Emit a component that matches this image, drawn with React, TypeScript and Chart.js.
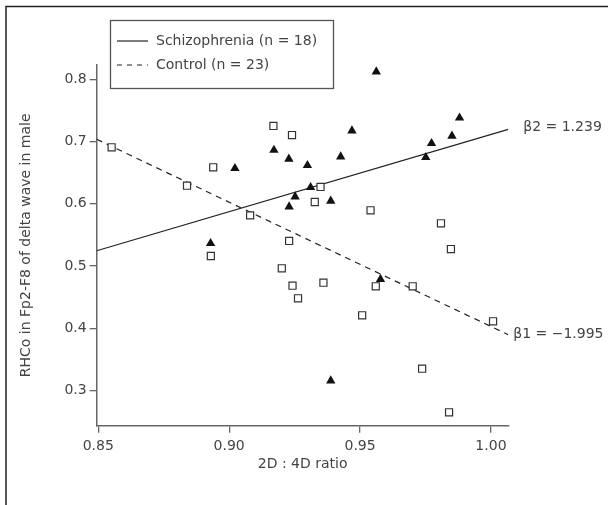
import React, { useEffect, useRef } from "react";
import { Chart, registerables } from "chart.js";

Chart.register(...registerables);

// Schizophrenia (n = 18) — filled triangles
const schizX = [0.9562, 0.988, 0.9851, 0.9773, 0.9751, 0.9469, 0.9426, 0.9299, 0.9022, 0.9171, 0.9228, 0.9311, 0.9252, 0.9229, 0.9388, 0.8929, 0.9578, 0.9388];
const schizY = [0.812, 0.738, 0.7088, 0.697, 0.6746, 0.7173, 0.6756, 0.6618, 0.657, 0.6863, 0.672, 0.6265, 0.6114, 0.5953, 0.6045, 0.5366, 0.479, 0.316];

// Control (n = 23) — open squares
const controlX = [0.8551, 0.8939, 0.8839, 0.908, 0.893, 0.9169, 0.924, 0.9349, 0.9327, 0.9229, 0.9201, 0.9242, 0.9263, 0.936, 0.954, 0.956, 0.9701, 0.9508, 0.9809, 0.9847, 1.0008, 0.9737, 0.984];
const controlY = [0.6907, 0.6586, 0.629, 0.5815, 0.5162, 0.7249, 0.7104, 0.627, 0.6029, 0.5403, 0.4965, 0.4685, 0.4483, 0.4733, 0.5896, 0.4676, 0.4676, 0.421, 0.5687, 0.5274, 0.4114, 0.3353, 0.2653];

// Regression lines (end points)
const schizFitX = [0.8494, 1.0066];
const schizFitY = [0.5247, 0.7195];
const controlFitX = [0.8494, 1.0066];
const controlFitY = [0.7035, 0.3899];

const xTicks = [0.85, 0.9, 0.95, 1.0];
const yTicks = [0.3, 0.4, 0.5, 0.6, 0.7, 0.8];

const legendLabels = ["Schizophrenia (n = 18)", "Control (n = 23)"];
const betaLabels = ["\u03b22 = 1.239", "\u03b21 = \u22121.995"];
const xTitle = "2D : 4D ratio";
const yTitle = "RHCo in Fp2-F8 of delta wave in male";

const FONT = "'DejaVu Sans', sans-serif";
const TEXT = "#444";

const overlay = {
  id: "overlay",
  beforeDraw(chart: any) {
    const ctx = chart.ctx;
    ctx.save();
    ctx.fillStyle = "#fff";
    ctx.fillRect(0, 0, chart.width, chart.height);
    ctx.strokeStyle = "#222";
    ctx.lineWidth = 1.5;
    ctx.beginPath();
    ctx.moveTo(6, chart.height);
    ctx.lineTo(6, 6.5);
    ctx.lineTo(chart.width, 6.5);
    ctx.stroke();
    ctx.restore();
  },
  afterDraw(chart: any) {
    const ctx = chart.ctx;
    const xs = chart.scales.x;
    const ys = chart.scales.y;
    ctx.save();
    // legend box
    ctx.strokeStyle = "#555";
    ctx.lineWidth = 1.3;
    ctx.strokeRect(110.5, 20.5, 223, 68);
    ctx.font = `14px ${FONT}`;
    ctx.fillStyle = TEXT;
    ctx.textBaseline = "middle";
    ctx.textAlign = "left";
    const rows = [41, 65];
    ctx.strokeStyle = "#222";
    ctx.lineWidth = 1.2;
    ctx.beginPath();
    ctx.moveTo(117, rows[0]);
    ctx.lineTo(148, rows[0]);
    ctx.stroke();
    ctx.setLineDash([5, 5]);
    ctx.beginPath();
    ctx.moveTo(117, rows[1]);
    ctx.lineTo(148, rows[1]);
    ctx.stroke();
    ctx.setLineDash([]);
    ctx.fillText(legendLabels[0], 156, rows[0]);
    ctx.fillText(legendLabels[1], 156, rows[1]);
    // beta annotations at the end of each fit line
    const sx = xs.getPixelForValue(schizFitX[1]);
    const sy = ys.getPixelForValue(schizFitY[1]);
    ctx.fillText(betaLabels[0], sx + 15, sy - 2);
    const cx = xs.getPixelForValue(controlFitX[1]);
    const cy = ys.getPixelForValue(controlFitY[1]);
    ctx.fillText(betaLabels[1], cx + 5, cy);
    ctx.restore();
  },
};

export default function App() {
  const ref = useRef<HTMLCanvasElement>(null);
  useEffect(() => {
    if (!ref.current) return;
    const chart = new Chart(ref.current, {
      type: "scatter",
      data: {
        datasets: [
          {
            label: "Schizophrenia",
            data: schizX.map((x, i) => ({ x, y: schizY[i] })),
            pointStyle: "triangle",
            pointRadius: 5.4,
            backgroundColor: "#111",
            borderColor: "#111",
            borderWidth: 0,
          },
          {
            label: "Control",
            data: controlX.map((x, i) => ({ x, y: controlY[i] })),
            pointStyle: "rect",
            pointRadius: 5,
            backgroundColor: "#fff",
            borderColor: "#333",
            borderWidth: 1.2,
          },
          {
            label: "Schizophrenia fit",
            data: schizFitX.map((x, i) => ({ x, y: schizFitY[i] })),
            showLine: true,
            pointRadius: 0,
            borderColor: "#222",
            borderWidth: 1.2,
          },
          {
            label: "Control fit",
            data: controlFitX.map((x, i) => ({ x, y: controlFitY[i] })),
            showLine: true,
            pointRadius: 0,
            borderColor: "#222",
            borderWidth: 1.2,
            borderDash: [6, 5],
          },
        ],
      } as any,
      options: {
        animation: false,
        responsive: false,
        layout: { padding: { left: 0, top: 65, right: 99.5, bottom: 0 } },
        plugins: { legend: { display: false }, tooltip: { enabled: false } },
        scales: {
          x: {
            type: "linear",
            min: 0.8494,
            max: 1.0067,
            afterBuildTicks: (s: any) => {
              s.ticks = xTicks.map((v) => ({ value: v }));
            },
            afterFit: (s: any) => {
              s.height = 505 - 425.7;
            },
            grid: { drawOnChartArea: false, drawTicks: true, tickLength: 7, color: "#666", lineWidth: 1.3 },
            border: { display: true, color: "#666", width: 1.5 },
            ticks: {
              color: TEXT,
              font: { family: FONT, size: 14 },
              padding: 5,
              maxRotation: 0,
              autoSkip: false,
              callback: (v: any) => Number(v).toFixed(2),
            },
            title: {
              display: true,
              text: xTitle,
              color: TEXT,
              font: { family: FONT, size: 14 },
              padding: { top: 0, bottom: 32 },
            },
          },
          y: {
            type: "linear",
            min: 0.2438,
            max: 0.8228,
            afterBuildTicks: (s: any) => {
              s.ticks = yTicks.map((v) => ({ value: v }));
            },
            afterFit: (s: any) => {
              s.width = 96.7;
            },
            grid: { drawOnChartArea: false, drawTicks: true, tickLength: 7, color: "#666", lineWidth: 1.3 },
            border: { display: true, color: "#666", width: 1.5 },
            ticks: {
              color: TEXT,
              font: { family: FONT, size: 14 },
              padding: 3,
              autoSkip: false,
              callback: (v: any) => Number(v).toFixed(1),
            },
            title: {
              display: true,
              text: yTitle,
              color: TEXT,
              font: { family: FONT, size: 14 },
              padding: { top: 18, bottom: 0 },
            },
          },
        },
      } as any,
      plugins: [overlay],
    });
    return () => chart.destroy();
  }, []);
  return (
    <div style={{ position: "absolute", left: 0, top: 0, width: 608, height: 505 }}>
      <canvas ref={ref} width={608} height={505} />
    </div>
  );
}
